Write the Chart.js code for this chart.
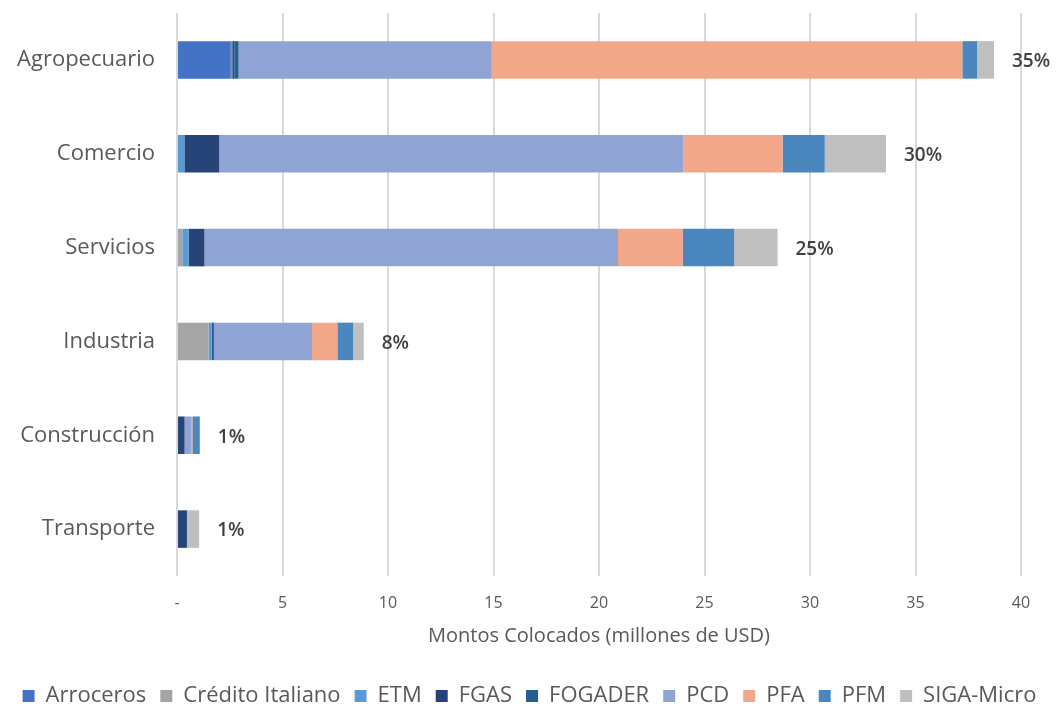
<!DOCTYPE html>
<html>
<head>
<meta charset="utf-8">
<script src="https://cdn.jsdelivr.net/npm/chart.js@4/dist/chart.umd.min.js"></script>
<style>
  html, body { margin: 0; padding: 0; background: #ffffff; }
  #wrap { width: 1059px; height: 709px; position: relative; }
</style>
</head>
<body>
<div id="wrap"><canvas id="c" width="1059" height="709"></canvas></div>
<script>
const categories = ["Agropecuario", "Comercio", "Servicios", "Industria", "Construcción", "Transporte"];
const seriesNames = ["Arroceros", "Crédito Italiano", "ETM", "FGAS", "FOGADER", "PCD", "PFA", "PFM", "SIGA-Micro"];
const arroceros       = [2.55, 0,    0,    0,    0,    0];
const creditoItaliano = [0,    0,    0.25, 1.5,  0,    0];
const etm             = [0.07, 0.35, 0.3,  0.15, 0,    0];
const fgas            = [0.1,  1.65, 0.75, 0,    0.36, 0.47];
const fogader         = [0.2,  0,    0,    0.1,  0,    0];
const pcd             = [12.0, 22.0, 19.6, 4.65, 0.3,  0];
const pfa             = [22.3, 4.7,  3.07, 1.2,  0.07, 0];
const pfm             = [0.7,  2.0,  2.43, 0.75, 0.35, 0];
const sigaMicro       = [0.8,  2.9,  2.06, 0.5,  0,    0.58];
const shareLabels     = ["35%", "30%", "25%", "8%", "1%", "1%"];
const xTicks          = [0, 5, 10, 15, 20, 25, 30, 35, 40];

const seriesValues = [arroceros, creditoItaliano, etm, fgas, fogader, pcd, pfa, pfm, sigaMicro];
const colors = ["#4472C4", "#A5A5A5", "#5B9BD5", "#264478", "#255E91", "#8FA4D5", "#F1A788", "#4A87BF", "#BFBFBF"];

const FONT = "'Open Sans', 'Noto Sans', sans-serif";

const shareLabelPlugin = {
  id: 'shareLabels',
  afterDatasetsDraw(chart) {
    const ctx = chart.ctx;
    const xs = chart.scales.x;
    const ys = chart.scales.y;
    ctx.save();
    ctx.font = "600 19px " + FONT;
    ctx.fillStyle = "#404040";
    ctx.textAlign = "left";
    ctx.textBaseline = "middle";
    categories.forEach((c, i) => {
      let total = 0;
      seriesValues.forEach(s => total += s[i]);
      const x = xs.getPixelForValue(total) + 18;
      const y = ys.getPixelForValue(i) + 2;
      ctx.fillText(shareLabels[i], x, y);
    });
    ctx.restore();
  }
};

new Chart(document.getElementById('c'), {
  type: 'bar',
  data: {
    labels: categories,
    datasets: seriesNames.map((n, k) => ({
      label: n,
      data: seriesValues[k],
      backgroundColor: colors[k],
      borderWidth: 0,
      barPercentage: 0.4,
      categoryPercentage: 1.0
    }))
  },
  options: {
    indexAxis: 'y',
    responsive: false,
    animation: false,
    layout: { padding: { top: 13, right: 0, left: 0, bottom: -8 } },
    scales: {
      x: {
        stacked: true,
        min: 0, max: 40,
        afterBuildTicks(scale) { scale.ticks = xTicks.map(v => ({ value: v })); },
        ticks: {
          color: "#595959",
          font: { family: FONT, size: 16 },
          padding: 18,
          callback: v => v === 0 ? "-" : String(v)
        },
        grid: { color: "#D9D9D9", lineWidth: 2, drawTicks: false },
        border: { display: false },
        title: {
          display: true,
          text: "Montos Colocados (millones de USD)",
          color: "#595959",
          font: { family: FONT, size: 20 },
          padding: { top: 4, bottom: 23 }
        },
        afterFit(scale) {
          scale.height = 95;
          scale.paddingRight = 38;
          scale.paddingLeft = 0;
        }
      },
      y: {
        stacked: true,
        ticks: {
          color: "#595959",
          font: { family: FONT, size: 22 },
          padding: 14
        },
        grid: { display: false },
        border: { display: false },
        afterFit(scale) {
          scale.width = 177;
          scale.paddingTop = 0;
          scale.paddingBottom = 0;
        }
      }
    },
    plugins: {
      legend: {
        position: 'bottom',
        labels: {
          color: "#595959",
          font: { family: FONT, size: 22 },
          boxWidth: 12, boxHeight: 12,
          padding: 14
        }
      },
      tooltip: { enabled: false }
    }
  },
  plugins: [shareLabelPlugin]
});
</script>
</body>
</html>
